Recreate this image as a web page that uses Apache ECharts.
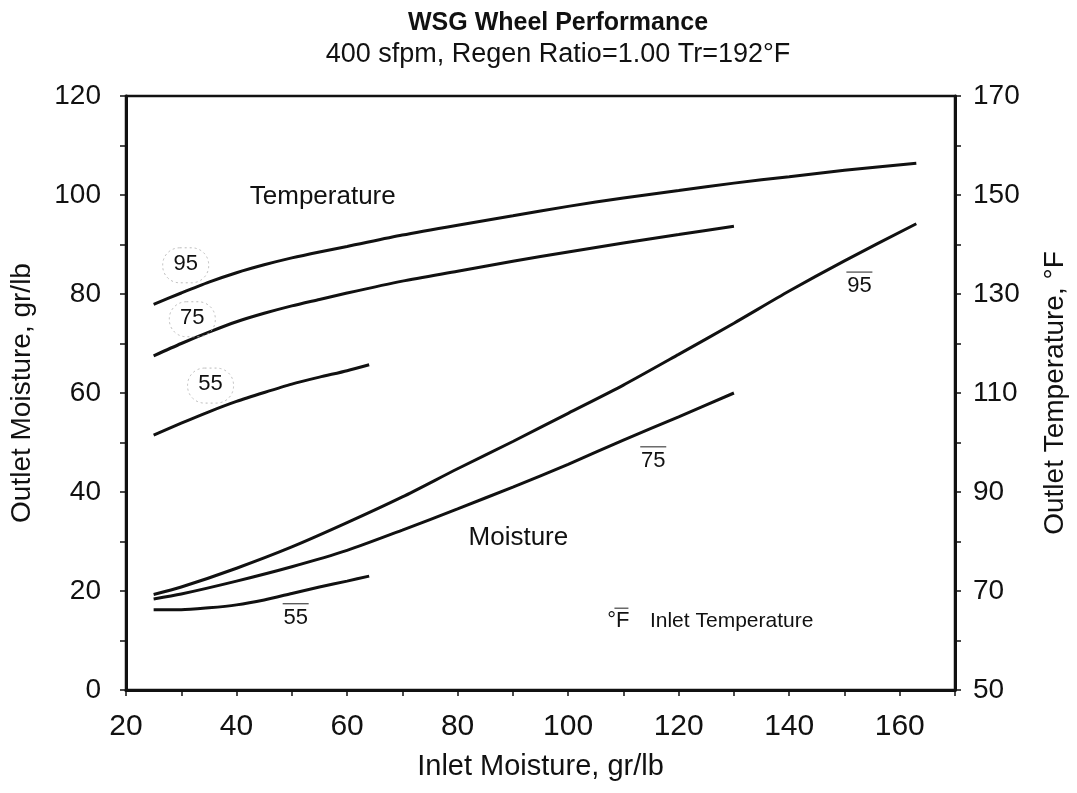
<!DOCTYPE html>
<html><head><meta charset="utf-8">
<script src="https://cdn.jsdelivr.net/npm/echarts@6/dist/echarts.min.js"></script>
<style>html,body{margin:0;padding:0;background:#fff}#c{width:1077px;height:793px}</style>
</head><body><div id="c"></div>
<script>
// Temperature curves (right axis, °F) : [inlet moisture, outlet temperature]
const temp95 = [[25,127.9],[30,130.2],[35,132.4],[40,134.3],[45,135.9],[50,137.3],[55,138.5],[60,139.6],[70,141.9],[80,143.9],[90,145.8],[100,147.7],[110,149.4],[120,150.9],[130,152.4],[140,153.7],[150,155],[163,156.4]];
const temp75 = [[25,117.5],[30,120],[35,122.3],[40,124.4],[45,126.1],[50,127.6],[55,128.9],[60,130.2],[70,132.6],[80,134.6],[90,136.6],[100,138.5],[110,140.3],[120,142],[130,143.7]];
const temp55 = [[25,101.5],[30,103.9],[35,106.2],[40,108.3],[45,110.1],[50,111.8],[55,113.2],[60,114.5],[64,115.7]];
// Moisture curves (left axis, gr/lb)
const moist95 = [[25,19.3],[30,20.8],[40,24.6],[50,28.9],[60,33.8],[70,39],[80,44.7],[90,50.2],[100,55.9],[110,61.6],[120,67.8],[130,74.1],[140,80.6],[150,86.7],[163,94.2]];
const moist75 = [[25,18.4],[30,19.4],[40,22],[50,24.9],[60,28.2],[70,32.3],[80,36.6],[90,41],[100,45.6],[110,50.5],[120,55.2],[130,60]];
const moist55 = [[25,16.2],[30,16.2],[35,16.6],[40,17.2],[45,18.2],[50,19.5],[55,20.8],[60,22],[64,23]];
// Tick labels
const xTickLabels = [20,40,60,80,100,120,140,160];
const yLeftTickLabels = [0,20,40,60,80,100,120];
const yRightTickLabels = [50,70,90,110,130,150,170];

const FONT = "'Liberation Sans', Arial, sans-serif";
const chart = echarts.init(document.getElementById('c'));

function lineSeries(name, data, yIdx){
  return {name, type:'line', data, yAxisIndex:yIdx, smooth:0.25, showSymbol:false, symbol:'none',
    lineStyle:{color:'#111', width:3}, animation:false, z:5};
}
const axisCommon = {
  axisLine:{show:true, lineStyle:{color:'#111', width:3}},
  axisTick:{show:true, length:6, lineStyle:{color:'#111', width:1.5}},
  splitLine:{show:false},
};
chart.setOption({
  animation:false,
  backgroundColor:'#fff',
  title:[
    {text:'WSG Wheel Performance', left:553, textAlign:'center', top:6, textStyle:{fontFamily:FONT, fontSize:25, fontWeight:'bold', color:'#111'}},
    {text:'400 sfpm, Regen Ratio=1.00 Tr=192°F', left:553, textAlign:'center', top:36, textStyle:{fontFamily:FONT, fontSize:27, fontWeight:'normal', color:'#111'}}
  ],
  grid:{left:124, right:121, top:96, bottom:103, show:true, borderColor:'#111', borderWidth:2.5, backgroundColor:'transparent'},
  xAxis:Object.assign({}, axisCommon, {type:'value', min:20, max:170, interval:10,
    name:'Inlet Moisture, gr/lb', nameLocation:'middle', nameGap:62,
    nameTextStyle:{fontFamily:FONT, fontSize:29, color:'#111'},
    axisLabel:{fontFamily:FONT, fontSize:30, color:'#111', margin:22,
      formatter:v=> xTickLabels.includes(v)? String(v):''}}),
  yAxis:[
    Object.assign({}, axisCommon, {type:'value', min:0, max:120, interval:10, position:'left',
      name:'Outlet Moisture, gr/lb', nameLocation:'middle', nameGap:90,
      nameTextStyle:{fontFamily:FONT, fontSize:28, color:'#111'},
      axisLabel:{fontFamily:FONT, fontSize:28, color:'#111', margin:25,
        formatter:v=> yLeftTickLabels.includes(v)? String(v):''}}),
    Object.assign({}, axisCommon, {type:'value', min:50, max:170, interval:10, position:'right',
      name:'Outlet Temperature, °F', nameLocation:'middle', nameGap:86, nameRotate:90,
      nameTextStyle:{fontFamily:FONT, fontSize:28, color:'#111'},
      axisLabel:{fontFamily:FONT, fontSize:28, color:'#111', margin:18,
        formatter:v=> yRightTickLabels.includes(v)? String(v):''}})
  ],
  series:[
    lineSeries('T95', temp95, 1), lineSeries('T75', temp75, 1), lineSeries('T55', temp55, 1),
    lineSeries('M95', moist95, 0), lineSeries('M75', moist75, 0), lineSeries('M55', moist55, 0)
  ]
});

// Annotations placed in data coordinates (left axis units)
const P = (x,y)=> chart.convertToPixel({xAxisIndex:0, yAxisIndex:0},[x,y]);
const g = [];
function text(x,y,str,size,align){
  const p = P(x,y);
  g.push({type:'text', x:p[0], y:p[1], z:10, style:{text:str, fontFamily:FONT, fontSize:size, fill:'#111', align:align||'center', verticalAlign:'middle'}});
  return p;
}
text(55.6, 99.6, 'Temperature', 26);
text(91.0, 30.8, 'Moisture', 26);
// Temperature curve labels with dotted ovals
[[30.8,86.1,'95'],[32,75.2,'75'],[35.3,61.8,'55']].forEach(([x,y,s])=>{
  const p = text(x,y,s,22);
  g.push({type:'rect', z:9, shape:{x:p[0]-23, y:p[1]-16, width:46, height:35, r:17},
    style:{fill:'none', stroke:'#bbb', lineWidth:1, lineDash:[2,3]}});
});
// Moisture curve labels with overline
[[152.7,81.6,'95'],[115.4,46.3,'75'],[50.7,14.6,'55']].forEach(([x,y,s])=>{
  const p = text(x,y,s,22);
  g.push({type:'line', z:9, shape:{x1:p[0]-13, y1:p[1]-14, x2:p[0]+13, y2:p[1]-14}, style:{stroke:'#444', lineWidth:1.2}});
});
// Key
const pk = text(109.1, 13.9, '°F', 22, 'center');
g.push({type:'line', z:9, shape:{x1:pk[0]-4, y1:pk[1]-13, x2:pk[0]+10, y2:pk[1]-13}, style:{stroke:'#444', lineWidth:1.2}});
text(114.8, 13.9, 'Inlet Temperature', 21, 'left');
chart.setOption({graphic:g});
</script>
</body></html>
